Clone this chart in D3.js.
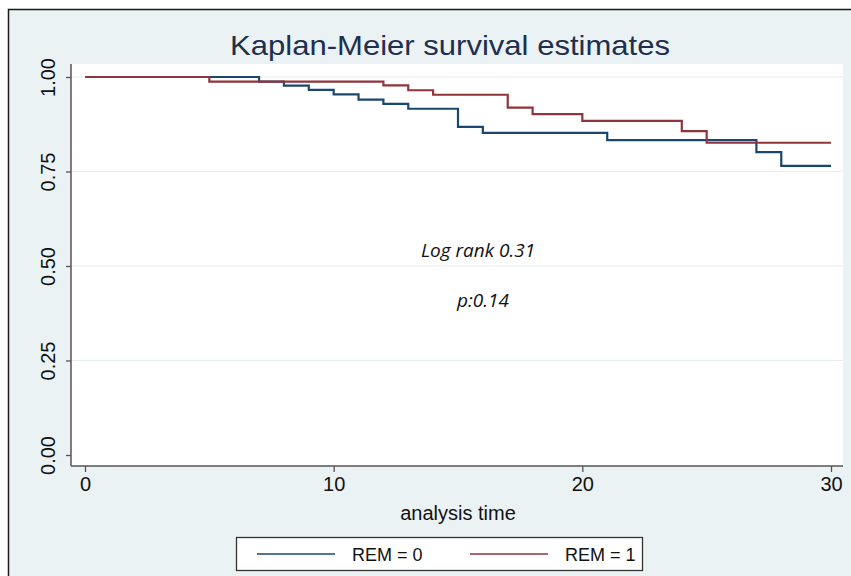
<!DOCTYPE html>
<html>
<head>
<meta charset="utf-8">
<script src="https://cdn.jsdelivr.net/npm/d3@7"></script>
<style>
  body { margin: 0; background: #ffffff; }
  svg text { font-family: "Liberation Sans", Arial, sans-serif; }
</style>
</head>
<body>
<div id="chart"></div>
<script>
// KM step data
const rem0Time = [0, 7, 8, 9, 10, 11, 12, 13, 15, 16, 21, 27, 28, 30];
const rem0Surv = [1, 0.988, 0.977, 0.966, 0.954, 0.94, 0.929, 0.916, 0.868, 0.852, 0.833, 0.801, 0.765, 0.765];
const rem1Time = [0, 5, 12, 13, 14, 17, 18, 20, 24, 25, 30];
const rem1Surv = [1, 0.988, 0.978, 0.965, 0.953, 0.919, 0.902, 0.884, 0.857, 0.826, 0.826];

const xTicks = [0, 10, 20, 30];
const yTicks = [0, 0.25, 0.5, 0.75, 1];
const legendLabels = ["REM = 0", "REM = 1"];
const colors = ["#1a476f", "#90353b"];

const W = 851, H = 576;
const plot = {left: 71, right: 843, top: 64, bottom: 466};

const svg = d3.select("#chart").append("svg")
    .attr("width", W).attr("height", H);

// outer graph region
svg.append("rect")
    .attr("x", 8.5).attr("y", 9.5)
    .attr("width", W).attr("height", H)
    .attr("fill", "#eaf2f3")
    .attr("stroke", "#1a1a1a").attr("stroke-width", 1.5);

// plot region
svg.append("rect")
    .attr("x", plot.left).attr("y", plot.top)
    .attr("width", plot.right - plot.left).attr("height", plot.bottom - plot.top)
    .attr("fill", "#ffffff");

const x = d3.scaleLinear().domain([0, 30]).range([85, 831]);
const y = d3.scaleLinear().domain([0, 1]).range([455, 77]);

// gridlines
svg.append("g").selectAll("line")
    .data(yTicks.filter(d => d > 0))
    .enter().append("line")
    .attr("x1", plot.left).attr("x2", plot.right)
    .attr("y1", d => y(d)).attr("y2", d => y(d))
    .attr("stroke", "#e6eef0").attr("stroke-width", 1.2);

// y axis
const yAxis = svg.append("g")
    .attr("transform", "translate(" + plot.left + ",0)")
    .call(d3.axisLeft(y).tickValues(yTicks).tickFormat(d3.format(".2f")).tickSize(5).tickPadding(8));
yAxis.select(".domain").attr("d", "M0," + plot.top + "V" + plot.bottom).attr("stroke", "#555").attr("stroke-width", 1.5);
yAxis.selectAll(".tick line").attr("stroke", "#555").attr("stroke-width", 1.3);
yAxis.selectAll(".tick text")
    .attr("font-size", 20).attr("fill", "#111")
    .attr("text-anchor", "middle")
    .attr("x", 0).attr("dy", 0)
    .attr("transform", "translate(-16,0) rotate(-90)");

// x axis
const xAxis = svg.append("g")
    .attr("transform", "translate(0," + plot.bottom + ")")
    .call(d3.axisBottom(x).tickValues(xTicks).tickSize(6).tickPadding(5));
xAxis.select(".domain").attr("d", "M" + plot.left + ",0H" + plot.right).attr("stroke", "#555").attr("stroke-width", 1.5);
xAxis.selectAll(".tick line").attr("stroke", "#555").attr("stroke-width", 1.3);
xAxis.selectAll(".tick text").attr("font-size", 20).attr("fill", "#111");

// step curves
const line = d3.line().x(d => x(d[0])).y(d => y(d[1])).curve(d3.curveStepAfter);
const series = [d3.zip(rem0Time, rem0Surv), d3.zip(rem1Time, rem1Surv)];
svg.append("g").selectAll("path")
    .data(series)
    .enter().append("path")
    .attr("d", line)
    .attr("fill", "none")
    .attr("stroke", (d, i) => colors[i])
    .attr("stroke-width", 2.2);

// title
svg.append("text")
    .attr("x", 450).attr("y", 55)
    .attr("text-anchor", "middle")
    .attr("font-size", 28).attr("fill", "#1e2f4f")
    .attr("textLength", 440).attr("lengthAdjust", "spacingAndGlyphs")
    .text("Kaplan-Meier survival estimates");

// x axis title
svg.append("text")
    .attr("x", 458).attr("y", 520)
    .attr("text-anchor", "middle")
    .attr("font-size", 20).attr("fill", "#111")
    .text("analysis time");

// annotations
svg.append("text")
    .attr("x", 478).attr("y", 257)
    .attr("text-anchor", "middle")
    .attr("font-size", 19).attr("font-style", "italic")
    .style("font-family", "'Open Sans', sans-serif")
    .attr("fill", "#111")
    .text("Log rank 0.31");
svg.append("text")
    .attr("x", 483).attr("y", 307)
    .attr("text-anchor", "middle")
    .attr("font-size", 19).attr("font-style", "italic")
    .style("font-family", "'Open Sans', sans-serif")
    .attr("fill", "#111")
    .text("p:0.14");

// legend
const legend = svg.append("g");
legend.append("rect")
    .attr("x", 236.5).attr("y", 537.5)
    .attr("width", 406).attr("height", 33)
    .attr("fill", "#ffffff").attr("stroke", "#333").attr("stroke-width", 1.3);
const legX = [257, 470];
legendLabels.forEach((lab, i) => {
  legend.append("line")
      .attr("x1", legX[i]).attr("x2", legX[i] + 78)
      .attr("y1", 554).attr("y2", 554)
      .attr("stroke", colors[i]).attr("stroke-width", 1.5);
  legend.append("text")
      .attr("x", legX[i] + 95).attr("y", 561)
      .attr("font-size", 18).attr("fill", "#111")
      .text(lab);
});
</script>
</body>
</html>
